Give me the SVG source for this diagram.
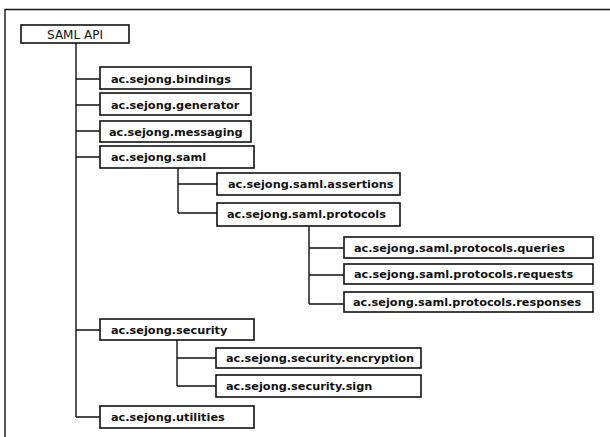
<svg xmlns="http://www.w3.org/2000/svg" width="610" height="437" viewBox="0 0 610 437">
<style>
.box{fill:#fff;stroke:#111;stroke-width:1.6}
.lbl{font-family:"DejaVu Sans","Liberation Sans",sans-serif;font-weight:bold;font-size:11.3px;fill:#111}
.ln{stroke:#111;stroke-width:1.4;fill:none}
</style>
<rect width="610" height="437" fill="#fff"/>
<g id="frame" class="ln"><path d="M5 437 V9.5 H610"/></g>
<g id="connectors" class="ln">
<path d="M76 43 V417"/>
<path d="M76 79 H100 M76 105 H100 M76 131 H100 M76 157 H100 M76 330 H100 M76 417 H100"/>
<path d="M178 168 V213 M178 184 H217 M178 213 H217"/>
<path d="M309 226 V304 M309 248 H344 M309 275 H344 M309 304 H344"/>
<path d="M177 340 V386 M177 358 H216 M177 386 H216"/>
</g>
<g id="n-saml-api"><rect class="box" x="21" y="25" width="108" height="18"/><text class="lbl" x="75" y="38.5" text-anchor="middle" style="font-weight:normal;font-size:12px">SAML API</text></g>
<g id="n-bindings"><rect class="box" x="100" y="67" width="151" height="22"/><text class="lbl" x="111" y="82.5">ac.sejong.bindings</text></g>
<g id="n-generator"><rect class="box" x="100" y="93" width="151" height="22"/><text class="lbl" x="111" y="108.5">ac.sejong.generator</text></g>
<g id="n-messaging"><rect class="box" x="100" y="121" width="151" height="21"/><text class="lbl" x="109" y="135.5">ac.sejong.messaging</text></g>
<g id="n-saml"><rect class="box" x="100" y="146" width="154" height="22"/><text class="lbl" x="111" y="160.5">ac.sejong.saml</text></g>
<g id="n-assertions"><rect class="box" x="217" y="173" width="183" height="22"/><text class="lbl" x="228" y="188">ac.sejong.saml.assertions</text></g>
<g id="n-protocols"><rect class="box" x="217" y="203" width="183" height="23"/><text class="lbl" x="227" y="218">ac.sejong.saml.protocols</text></g>
<g id="n-queries"><rect class="box" x="344" y="237" width="249" height="21"/><text class="lbl" x="354" y="251.5">ac.sejong.saml.protocols.queries</text></g>
<g id="n-requests"><rect class="box" x="344" y="264" width="249" height="20"/><text class="lbl" x="354" y="278">ac.sejong.saml.protocols.requests</text></g>
<g id="n-responses"><rect class="box" x="344" y="292" width="249" height="20"/><text class="lbl" x="353" y="306">ac.sejong.saml.protocols.responses</text></g>
<g id="n-security"><rect class="box" x="100" y="319" width="154" height="21"/><text class="lbl" x="111" y="333.5">ac.sejong.security</text></g>
<g id="n-encryption"><rect class="box" x="216" y="348" width="205" height="20"/><text class="lbl" x="226" y="362">ac.sejong.security.encryption</text></g>
<g id="n-sign"><rect class="box" x="216" y="375" width="205" height="22"/><text class="lbl" x="226" y="390">ac.sejong.security.sign</text></g>
<g id="n-utilities"><rect class="box" x="100" y="406" width="154" height="22"/><text class="lbl" x="111" y="421">ac.sejong.utilities</text></g>
</svg>
